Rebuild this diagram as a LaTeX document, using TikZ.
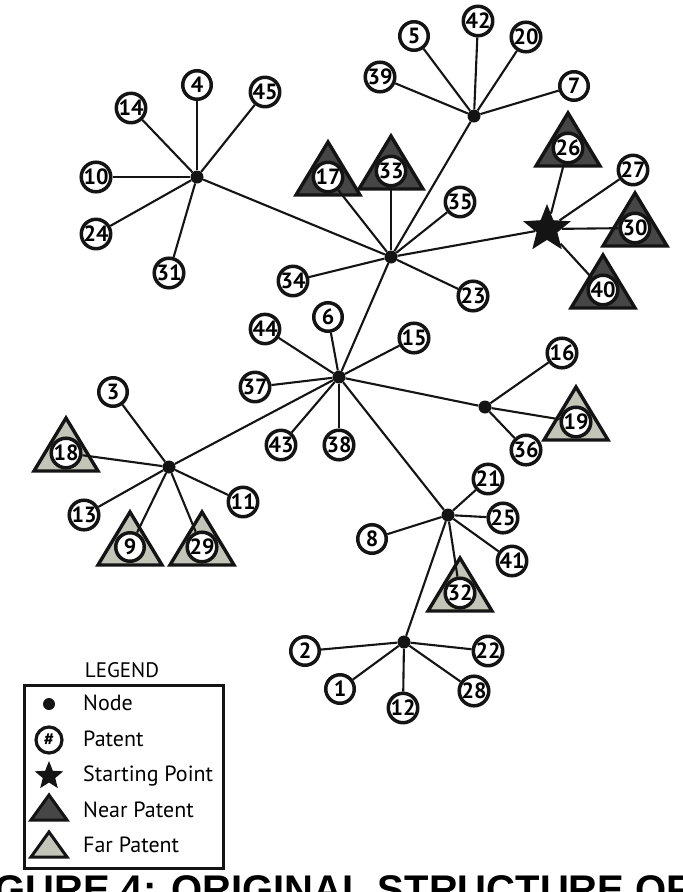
\documentclass[tikz,border=0pt]{standalone}
\usepackage{fontspec}
\setmainfont{PT Sans}
\newfontfamily\titlefont{Liberation Sans}
\usetikzlibrary{shapes.geometric}
\definecolor{nearfill}{HTML}{464646}
\definecolor{farfill}{HTML}{C4C5B9}
\definecolor{ink}{HTML}{141414}
\begin{document}
\begin{tikzpicture}[x=1pt,y=-1pt,
  pat/.style={circle,draw=ink,line width=3.5pt,fill=white,minimum size=28.5pt,inner sep=0pt,
    font=\bfseries\fontsize{22}{22}\selectfont},
  hub/.style={circle,fill=ink,minimum size=13pt,inner sep=0pt},
  edge/.style={draw=ink,line width=2.1pt},
  neartri/.style={fill=nearfill,draw=ink,line width=3.4pt,line join=miter},
  fartri/.style={fill=farfill,draw=ink,line width=3.4pt,line join=miter},
  startstar/.style={star,star points=5,star point ratio=2.3,fill=ink,inner sep=0pt},
  legtext/.style={anchor=base west,inner sep=0pt,font=\fontsize{22}{22}\selectfont}]
\clip (0,0) rectangle (683,892);
\useasboundingbox (0,0) rectangle (683,892);
% triangles
\foreach \cx/\cy in {328/177,391/171,568/148,635/228,603/290}
  \filldraw[neartri] (\cx,\cy-35) -- (\cx+32,\cy+18) -- (\cx-32,\cy+18) -- cycle;
\foreach \cx/\cy in {66/453,130/547,202/547,576/422,460/593}
  \filldraw[fartri] (\cx,\cy-35) -- (\cx+32,\cy+18) -- (\cx-32,\cy+18) -- cycle;
% hubs
\node[hub] (A) at (474,116) {};
\node[hub] (B) at (391,257) {};
\node[hub] (C) at (197,177) {};
\node[hub] (D) at (169,467) {};
\node[hub] (E) at (339,377) {};
\node[hub] (F) at (485,407) {};
\node[hub] (G) at (448,515) {};
\node[hub] (H) at (404,642) {};
\node[startstar,minimum size=50pt] (S) at (547,229) {};
% patents
\foreach \n/\px/\py in {1/340/689,2/305/651,3/113/392,4/197/85,5/414/36,6/328/317,7/574/86,
  8/372/539,9/130/547,10/96/177,11/243/502,12/403/708,13/84/515,14/131/108,15/414/338,
  16/562/353,17/328/177,18/66/453,19/576/422,20/526/37,21/488/479,22/488/651,23/473/296,
  24/96/234,25/503/518,26/568/148,27/633/170,28/474/691,29/202/547,30/635/228,31/169/273,
  32/460/593,33/391/171,34/293/281,35/460/202,36/526/450,37/255/387,38/339/445,39/380/77,
  40/603/290,41/512/561,42/478/21,43/281/445,44/265/329,45/265/92}
  \node[pat] (p\n) at (\px,\py) {\n};
% edges
\foreach \t in {4,45,14,10,24,31} \draw[edge] (C) -- (p\t);
\draw[edge] (C) -- (B);
\foreach \t in {5,42,20,39,7} \draw[edge] (A) -- (p\t);
\draw[edge] (A) -- (B);
\foreach \t in {17,33,35,34,23} \draw[edge] (B) -- (p\t);
\draw[edge] (B) -- (S);
\draw[edge] (B) -- (E);
\foreach \t in {26,27,30,40} \draw[edge] (S) -- (p\t);
\foreach \t in {6,44,15,37,43,38} \draw[edge] (E) -- (p\t);
\draw[edge] (E) -- (D);
\draw[edge] (E) -- (F);
\draw[edge] (E) -- (G);
\foreach \t in {3,18,13,11,9,29} \draw[edge] (D) -- (p\t);
\foreach \t in {16,19,36} \draw[edge] (F) -- (p\t);
\foreach \t in {21,25,8,41,32} \draw[edge] (G) -- (p\t);
\draw[edge] (G) -- (H);
\foreach \t in {2,22,1,12,28} \draw[edge] (H) -- (p\t);
% legend
\node[anchor=base,inner sep=0pt,font=\fontsize{21}{21}\selectfont] (legtitle) at (122,677) {LEGEND};
\node[draw=ink,line width=3pt,minimum width=199pt,minimum height=183pt,inner sep=0pt] (legbox) at (123.5,776.5) {};
\node[hub,minimum size=12pt] (lnode) at (49,704) {};
\node[pat,minimum size=26pt,line width=3.2pt,font=\bfseries\fontsize{18}{18}\selectfont] (lpat) at (49,740) {\#};
\node[startstar,minimum size=30pt] (lstar) at (49,776) {};
\filldraw[neartri,line width=3pt] (49,795) -- (67,820) -- (31,820) -- cycle;
\filldraw[fartri,line width=3pt] (49,832) -- (67,857) -- (31,857) -- cycle;
\node[legtext] (t1) at (83,710) {Node};
\node[legtext] (t2) at (83,746) {Patent};
\node[legtext] (t3) at (83,781) {Starting Point};
\node[legtext] (t4) at (83,817) {Near Patent};
\node[legtext] (t5) at (83,852) {Far Patent};
% title (cut off, as in the reference)
\node[anchor=base west,inner sep=0pt,font=\titlefont\bfseries\fontsize{40}{40}\selectfont] (title) at (-6,903) {GURE 4: ORIGINAL STRUCTURE OF};
\end{tikzpicture}
\end{document}
